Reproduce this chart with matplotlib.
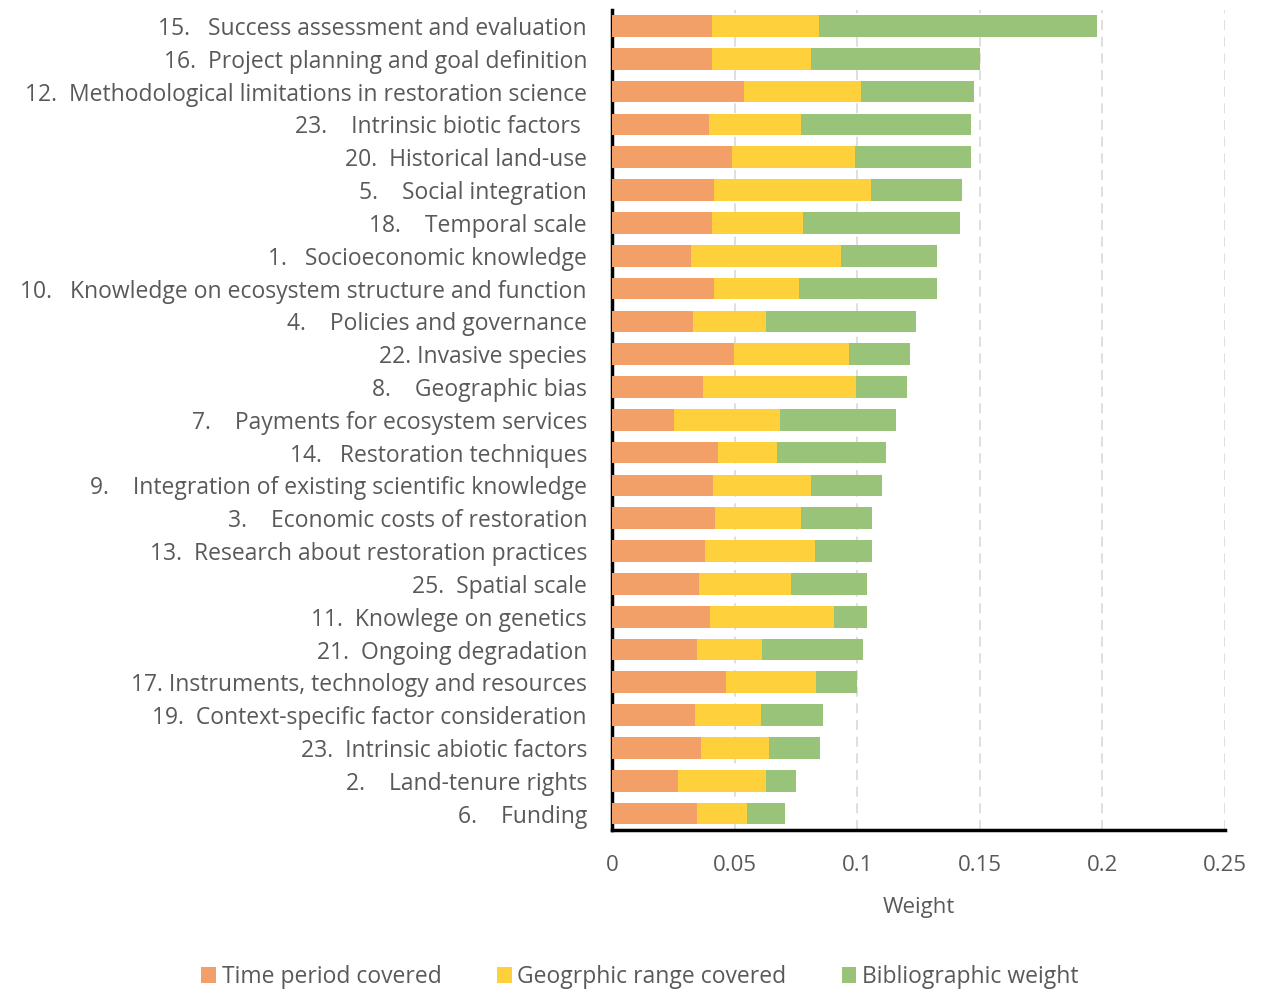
import matplotlib
matplotlib.use("Agg")
import matplotlib.pyplot as plt
import numpy as np

labels = [
    "15.   Success assessment and evaluation",
    "16.  Project planning and goal definition",
    "12.  Methodological limitations in restoration science",
    "23.    Intrinsic biotic factors ",
    "20.  Historical land-use",
    "5.    Social integration",
    "18.    Temporal scale",
    "1.   Socioeconomic knowledge",
    "10.   Knowledge on ecosystem structure and function",
    "4.    Policies and governance",
    "22. Invasive species",
    "8.    Geographic bias",
    "7.    Payments for ecosystem services",
    "14.   Restoration techniques",
    "9.    Integration of existing scientific knowledge",
    "3.    Economic costs of restoration",
    "13.  Research about restoration practices",
    "25.  Spatial scale",
    "11.  Knowlege on genetics",
    "21.  Ongoing degradation",
    "17. Instruments, technology and resources",
    "19.  Context-specific factor consideration",
    "23.  Intrinsic abiotic factors",
    "2.    Land-tenure rights",
    "6.    Funding",
]

time_period = [0.0407, 0.0407, 0.0538, 0.0397, 0.0488, 0.0414, 0.0407, 0.0321, 0.0416,
               0.0332, 0.0498, 0.0373, 0.0254, 0.0431, 0.0412, 0.0419, 0.0380,
               0.0353, 0.0400, 0.0347, 0.0465, 0.0338, 0.0363, 0.0269, 0.0347]
geo_range = [0.0436, 0.0405, 0.0476, 0.0372, 0.0503, 0.0644, 0.0370, 0.0613, 0.0347,
             0.0297, 0.0470, 0.0621, 0.0432, 0.0243, 0.0399, 0.0350, 0.0449,
             0.0378, 0.0505, 0.0263, 0.0369, 0.0270, 0.0276, 0.0359, 0.0205]
biblio = [0.1134, 0.0687, 0.0461, 0.0697, 0.0472, 0.0371, 0.0644, 0.0391, 0.0561,
          0.0611, 0.0246, 0.0209, 0.0471, 0.0443, 0.0290, 0.0290, 0.0230,
          0.0310, 0.0135, 0.0414, 0.0167, 0.0253, 0.0211, 0.0123, 0.0153]

series_names = ["Time period covered", "Geogrphic range covered", "Bibliographic weight"]
colors = ["#F2A068", "#FDD03C", "#98C378"]
xticks = [0, 0.05, 0.1, 0.15, 0.2, 0.25]
xtick_labels = ["0", "0.05", "0.1", "0.15", "0.2", "0.25"]

plt.rcParams['font.family'] = ['Open Sans', 'DejaVu Sans']
text_color = "#595959"

fig = plt.figure(figsize=(12.65, 9.92), dpi=100)
ax = fig.add_axes([612/1265, 1 - 830/992, (1225-612)/1265, (830-9.6)/992])

y = np.arange(len(labels))
tp = np.array(time_period)
gr = np.array(geo_range)
bw = np.array(biblio)
h = 0.66
ax.barh(y, tp, height=h, color=colors[0], label=series_names[0], zorder=3)
ax.barh(y, gr, left=tp, height=h, color=colors[1], label=series_names[1], zorder=3)
ax.barh(y, bw, left=tp + gr, height=h, color=colors[2], label=series_names[2], zorder=3)

ax.set_ylim(len(labels) - 0.5, -0.5)
ax.set_xlim(0, 0.25)
ax.set_yticks(y)
ax.set_yticklabels(labels, fontsize=16.5, color=text_color)
ax.set_xticks(xticks)
ax.set_xticklabels(xtick_labels, fontsize=16, color=text_color)
ax.tick_params(axis='y', length=0, pad=18)
ax.tick_params(axis='x', length=0, pad=18)

for s in ["top", "right"]:
    ax.spines[s].set_visible(False)
ax.spines["left"].set_linewidth(2.5)
ax.spines["bottom"].set_linewidth(2.5)
ax.spines["left"].set_color("black")
ax.spines["bottom"].set_color("black")

ax.xaxis.grid(True, linestyle=(0, (6, 4)), color="#D9D9D9", linewidth=1.2, zorder=0)
ax.set_axisbelow(True)

ax.set_xlabel("Weight", fontsize=16, color=text_color, labelpad=15)

handles, lbls = ax.get_legend_handles_labels()
fig.legend(handles, lbls, loc="center", bbox_to_anchor=(640/1265, 1 - 977/992), ncol=3,
           frameon=False, fontsize=16.5, handlelength=0.65, handleheight=0.65,
           handletextpad=0.25, columnspacing=2.4, labelcolor=text_color)

fig.savefig("out.png", dpi=100, facecolor="white")
